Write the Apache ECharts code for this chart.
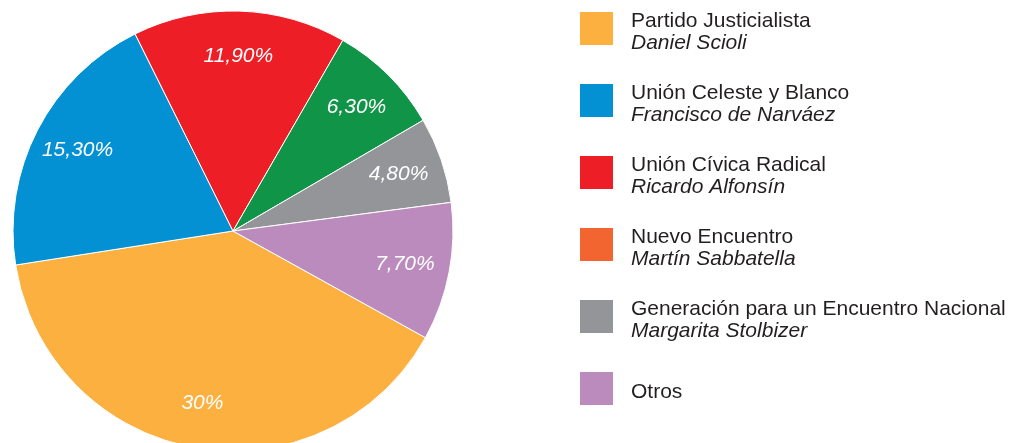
<!DOCTYPE html>
<html>
<head>
<meta charset="utf-8">
<script src="https://cdn.jsdelivr.net/npm/echarts@6/dist/echarts.min.js"></script>
<style>
  html, body { margin: 0; padding: 0; background: #fff; }
  #chart { width: 1011px; height: 443px; }
</style>
</head>
<body>
<div id="chart"></div>
<script>
const parties = ['Partido Justicialista', 'Unión Celeste y Blanco', 'Unión Cívica Radical', 'Nuevo Encuentro', 'Generación para un Encuentro Nacional', 'Otros'];
const candidates = ['Daniel Scioli', 'Francisco de Narváez', 'Ricardo Alfonsín', 'Martín Sabbatella', 'Margarita Stolbizer', ''];
const votes = [30, 15.3, 11.9, 6.3, 4.8, 7.7];
const voteLabels = ['30%', '15,30%', '11,90%', '6,30%', '4,80%', '7,70%'];
const sliceColors = ['#FBB040', '#0391D4', '#ED1E26', '#109447', '#939598', '#BC8BBE'];
const legendColors = ['#FBB040', '#0391D4', '#ED1E26', '#F26531', '#939598', '#BC8BBE'];

const FONT = '"Liberation Sans", Arial, Helvetica, sans-serif';
const center = [233, 231];
const R = 220;

const chart = echarts.init(document.getElementById('chart'));

const option = {
  animation: false,
  legend: {
    orient: 'vertical',
    left: 578,
    top: 10,
    padding: 0,
    itemWidth: 35,
    itemHeight: 35,
    itemGap: 28,
    icon: 'rect',
    selectedMode: false,
    data: parties.map((p, i) => ({ name: p, itemStyle: { color: legendColors[i] } })),
    formatter: function(name){
      const c = candidates[parties.indexOf(name)];
      return c ? '{a|' + name + '}\n{b|' + c + '}' : '{a|' + name + '}';
    },
    textStyle: {
      padding: [8, 0, 0, 12],
      rich: {
        a: { fontFamily: FONT, fontSize: 21, color: '#231F20', lineHeight: 22 },
        b: { fontFamily: FONT, fontSize: 21, fontStyle: 'italic', color: '#231F20', lineHeight: 22 }
      }
    }
  },
  series: [
    {
      // the pie itself
      type: 'pie',
      center: center,
      radius: [0, R],
      startAngle: -29,
      clockwise: true,
      silent: true,
      label: { show: false },
      labelLine: { show: false },
      itemStyle: { borderColor: '#fff', borderWidth: 1 },
      data: parties.map((p, i) => ({ name: p, value: votes[i], itemStyle: { color: sliceColors[i] } }))
    },
    {
      // transparent ring, only to place labels further out
      type: 'pie',
      center: center,
      radius: [124, R],
      startAngle: -29,
      clockwise: true,
      silent: true,
      itemStyle: { color: 'rgba(0,0,0,0)', borderWidth: 0 },
      label: {
        show: true,
        position: 'inside',
        fontFamily: FONT,
        fontSize: 21,
        fontStyle: 'italic',
        color: '#fff',
        formatter: function(p){ return voteLabels[p.dataIndex]; }
      },
      labelLine: { show: false },
      data: parties.map((p, i) => ({ name: p, value: votes[i] }))
    }
  ]
};

chart.setOption(option);
</script>
</body>
</html>
